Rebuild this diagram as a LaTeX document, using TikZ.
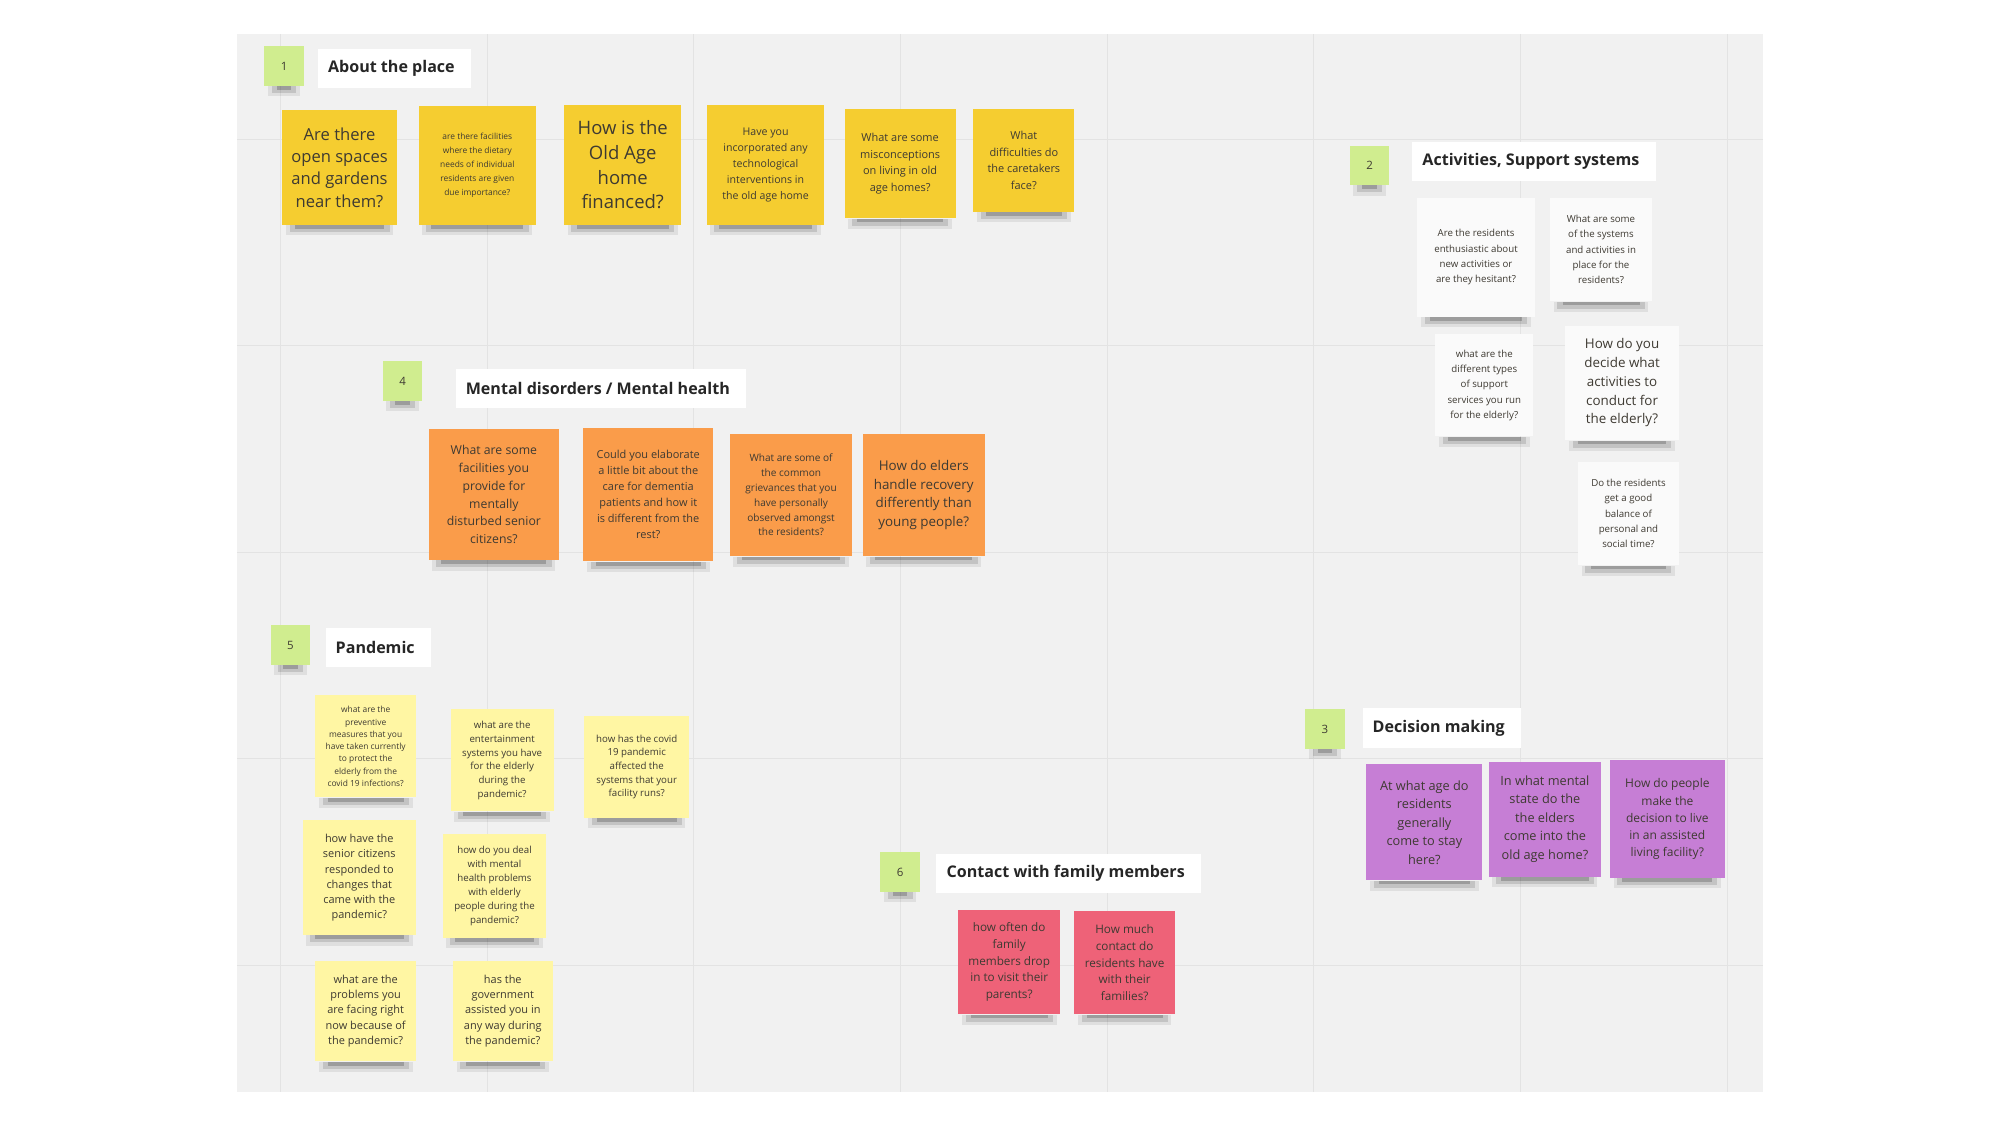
\documentclass[tikz,border=0pt]{standalone}
\usepackage{fontspec}
\setmainfont{Open Sans}
\usepackage{tikz}

\definecolor{boardgray}{RGB}{241,241,241}
\definecolor{gridgray}{RGB}{227,227,227}
\definecolor{numgreen}{RGB}{208,237,143}
\definecolor{stickyyellow}{RGB}{245,205,48}
\definecolor{stickywhite}{RGB}{250,250,250}
\definecolor{stickyorange}{RGB}{250,156,74}
\definecolor{stickylight}{RGB}{255,246,163}
\definecolor{stickypurple}{RGB}{198,126,213}
\definecolor{stickyred}{RGB}{238,98,120}
\definecolor{notetext}{RGB}{62,58,50}

\newcommand{\fs}[2]{\fontsize{#1}{#2}\selectfont}
\newcommand{\dropshadow}[1]{%
  \fill[black, opacity=.07] ([xshift=3pt]#1.south west) rectangle ([xshift=-3pt,yshift=-8pt]#1.south east);
  \fill[black, opacity=.12] ([xshift=6pt]#1.south west) rectangle ([xshift=-6pt,yshift=-5.5pt]#1.south east);
  \fill[black, opacity=.2] ([xshift=10pt]#1.south west) rectangle ([xshift=-10pt,yshift=-3pt]#1.south east);}

\tikzset{
  boxsize/.style 2 args={minimum width=#1, minimum height=#2},
  note/.style={anchor=north west, inner sep=2pt, align=center, text=notetext},
  numbox/.style={note, fill=numgreen, boxsize={31pt}{31pt}, font=\fs{9}{11}},
  header/.style={anchor=north west, fill=white, inner xsep=8pt, minimum height=31pt,
    text=black!85, font=\fs{12.6}{15}\bfseries, execute at end node={\kern5pt}},
}

\begin{document}
\begin{tikzpicture}[x=1pt, y=-1pt]
    \useasboundingbox (0,0) rectangle (1568,882);
    \fill[boardgray] (186,27) rectangle (1382,856);
    % grid
    \draw[gridgray, line width=0.8pt] (220,27) -- (220,856);
    \draw[gridgray, line width=0.8pt] (382,27) -- (382,856);
    \draw[gridgray, line width=0.8pt] (544,27) -- (544,856);
    \draw[gridgray, line width=0.8pt] (706,27) -- (706,856);
    \draw[gridgray, line width=0.8pt] (868,27) -- (868,856);
    \draw[gridgray, line width=0.8pt] (1030,27) -- (1030,856);
    \draw[gridgray, line width=0.8pt] (1192,27) -- (1192,856);
    \draw[gridgray, line width=0.8pt] (1354,27) -- (1354,856);
    \draw[gridgray, line width=0.8pt] (186,109) -- (1382,109);
    \draw[gridgray, line width=0.8pt] (186,271) -- (1382,271);
    \draw[gridgray, line width=0.8pt] (186,433) -- (1382,433);
    \draw[gridgray, line width=0.8pt] (186,595) -- (1382,595);
    \draw[gridgray, line width=0.8pt] (186,757) -- (1382,757);

    % 1 about the place
    \node[numbox] (g1) at (207,36) {1};
    \node[header] (h1) at (249,38) {About the place};
    \node[note, fill=stickyyellow, boxsize={90pt}{90pt}, font=\fs{13}{17.5}] (ap1) at (221,86) {Are there\\open spaces\\and gardens\\near them?};
    \node[note, fill=stickyyellow, boxsize={92pt}{93pt}, font=\fs{6.6}{11}] (ap2) at (328,83) {are there facilities\\where the dietary\\needs of individual\\residents are given\\due importance?};
    \node[note, fill=stickyyellow, boxsize={92pt}{94pt}, font=\fs{14.5}{19.5}] (ap3) at (442,82) {How is the\\Old Age\\home\\financed?};
    \node[note, fill=stickyyellow, boxsize={92pt}{94pt}, font=\fs{8.3}{12.5}] (ap4) at (554,82) {Have you\\incorporated any\\technological\\interventions in\\the old age home};
    \node[note, fill=stickyyellow, boxsize={87pt}{86pt}, font=\fs{8.6}{13}] (ap5) at (662,85) {What are some\\misconceptions\\on living in old\\age homes?};
    \node[note, fill=stickyyellow, boxsize={79pt}{81pt}, font=\fs{8.6}{13}] (ap6) at (763,85) {What\\difficulties do\\the caretakers\\face?};

    % 2 activities
    \node[numbox] (g2) at (1058,114) {2};
    \node[header] (h2) at (1107,111) {Activities, Support systems};
    \node[note, fill=stickywhite, boxsize={92pt}{93pt}, font=\fs{7.6}{12}] (as1) at (1111,155) {Are the residents\\enthusiastic about\\new activities or\\are they hesitant?};
    \node[note, fill=stickywhite, boxsize={80pt}{81pt}, font=\fs{7.6}{12}] (as2) at (1215,155) {What are some\\of the systems\\and activities in\\place for the\\residents?};
    \node[note, fill=stickywhite, boxsize={77pt}{80pt}, font=\fs{7.6}{12}] (as3) at (1125,262) {what are the\\different types\\of support\\services you run\\for the elderly?};
    \node[note, fill=stickywhite, boxsize={89pt}{90pt}, font=\fs{10.5}{14.7}] (as4) at (1227,255) {How do you\\decide what\\activities to\\conduct for\\the elderly?};
    \node[note, fill=stickywhite, boxsize={79pt}{81pt}, font=\fs{7.6}{12}] (as5) at (1237,362) {Do the residents\\get a good\\balance of\\personal and\\social time?};

    % 4 mental health
    \node[numbox] (g4) at (300,283) {4};
    \node[header] (h4) at (357,289) {Mental disorders / Mental health};
    \node[note, fill=stickyorange, boxsize={102pt}{103pt}, font=\fs{9.6}{14}] (mh1) at (336,336) {What are some\\facilities you\\provide for\\mentally\\disturbed senior\\citizens?};
    \node[note, fill=stickyorange, boxsize={102pt}{105pt}, font=\fs{8.6}{12.5}] (mh2) at (457,335) {Could you elaborate\\a little bit about the\\care for dementia\\patients and how it\\is different from the\\rest?};
    \node[note, fill=stickyorange, boxsize={96pt}{96pt}, font=\fs{7.9}{11.6}] (mh3) at (572,340) {What are some of\\the common\\grievances that you\\have personally\\observed amongst\\the residents?};
    \node[note, fill=stickyorange, boxsize={96pt}{96pt}, font=\fs{10.5}{14.6}] (mh4) at (676,340) {How do elders\\handle recovery\\differently than\\young people?};

    % 5 pandemic
    \node[numbox] (g5) at (212,490) {5};
    \node[header] (h5) at (255,492) {Pandemic};
    \node[note, fill=stickylight, boxsize={79pt}{80pt}, font=\fs{6.6}{9.6}] (pd1) at (247,545) {what are the\\preventive\\measures that you\\have taken currently\\to protect the\\elderly from the\\covid 19 infections?};
    \node[note, fill=stickylight, boxsize={81pt}{80pt}, font=\fs{7.6}{10.9}] (pd2) at (353,556) {what are the\\entertainment\\systems you have\\for the elderly\\during the\\pandemic?};
    \node[note, fill=stickylight, boxsize={82pt}{80pt}, font=\fs{7.6}{10.7}] (pd3) at (458,561) {how has the covid\\19 pandemic\\affected the\\systems that your\\facility runs?};
    \node[note, fill=stickylight, boxsize={89pt}{90pt}, font=\fs{8.6}{12}] (pd4) at (237,643) {how have the\\senior citizens\\responded to\\changes that\\came with the\\pandemic?};
    \node[note, fill=stickylight, boxsize={81pt}{81pt}, font=\fs{7.6}{10.9}] (pd5) at (347,654) {how do you deal\\with mental\\health problems\\with elderly\\people during the\\pandemic?};
    \node[note, fill=stickylight, boxsize={79pt}{79pt}, font=\fs{8.6}{12}] (pd6) at (247,753) {what are the\\problems you\\are facing right\\now because of\\the pandemic?};
    \node[note, fill=stickylight, boxsize={78pt}{79pt}, font=\fs{8.6}{12}] (pd7) at (355,753) {has the\\government\\assisted you in\\any way during\\the pandemic?};

    % 3 decision making
    \node[numbox] (g3) at (1023,556) {3};
    \node[header] (h3) at (1068,555) {Decision making};
    \node[note, fill=stickypurple, boxsize={91pt}{91pt}, font=\fs{10}{14.5}] (dm1) at (1071,599) {At what age do\\residents\\generally\\come to stay\\here?};
    \node[note, fill=stickypurple, boxsize={88pt}{90pt}, font=\fs{10}{14.5}] (dm2) at (1167,597) {In what mental\\state do the\\the elders\\come into the\\old age home?};
    \node[note, fill=stickypurple, boxsize={90pt}{92pt}, font=\fs{9.4}{13.5}] (dm3) at (1262,596) {How do people\\make the\\decision to live\\in an assisted\\living facility?};

    % 6 family
    \node[numbox] (g6) at (690,668) {6};
    \node[header] (h6) at (734,669) {Contact with family members};
    \node[note, fill=stickyred, boxsize={80pt}{82pt}, font=\fs{9.2}{13}] (cf1) at (751,713) {how often do\\family\\members drop\\in to visit their\\parents?};
    \node[note, fill=stickyred, boxsize={79pt}{81pt}, font=\fs{9.2}{13}] (cf2) at (842,714) {How much\\contact do\\residents have\\with their\\families?};

    % shadows
    \foreach \n in {g1,ap1,ap2,ap3,ap4,ap5,ap6,g2,as1,as2,as3,as4,as5,g4,mh1,mh2,mh3,mh4,
      g5,pd1,pd2,pd3,pd4,pd5,pd6,pd7,g3,dm1,dm2,dm3,g6,cf1,cf2}
      {\dropshadow{\n}}
\end{tikzpicture}
\end{document}
